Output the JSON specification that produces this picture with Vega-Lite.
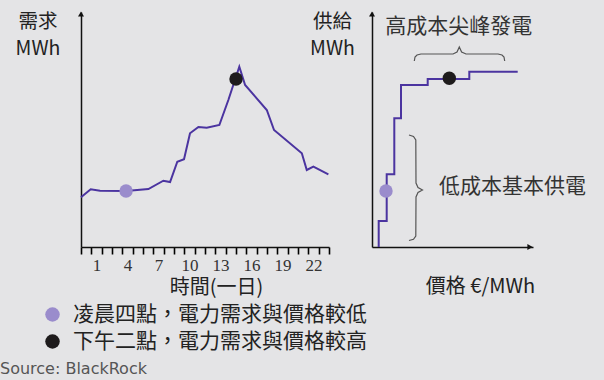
{
  "$schema": "https://vega.github.io/schema/vega-lite/v6.json",
  "background": "#e4e4e6",
  "padding": {"left": 0, "top": 11, "right": 20, "bottom": 8},
  "spacing": 43,
  "bounds": "flush",
  "config": {
    "view": {"stroke": null},
    "font": "Noto Sans CJK TC",
    "axis": {"titleFont": "Noto Sans CJK TC", "titleFontWeight": "normal", "titleColor": "#222", "grid": false}
  },
  "title": {"text": "Source: BlackRock", "orient": "bottom", "anchor": "start", "frame": "group", "dx": -81, "offset": 9, "font": "DejaVu Sans", "fontSize": 16, "fontWeight": "normal", "color": "#555"},
  "resolve": {"scale": {"color": "shared"}, "legend": {"color": "shared"}},
  "hconcat": [
    {
      "width": 248,
      "height": 235,
      "encoding": {
        "x": {"field": "t", "type": "quantitative", "scale": {"domain": [0, 24], "nice": false, "zero": false},
          "axis": {"values": [0,1,2,3,4,5,6,7,8,9,10,11,12,13,14,15,16,17,18,19,20,21,22,23,24],
            "labelExpr": "indexof([1,4,7,10,13,16,19,22], datum.value) >= 0 ? datum.label : ''",
            "labelOffset": 5.2, "labelFont": "Liberation Sans Narrow", "labelFontSize": 17, "labelColor": "#333", "labelPadding": 3,
            "labelAngle": 0, "labelOverlap": false, "labelFlush": false, "labelBound": false,
            "ticks": true, "tickSize": 7, "tickColor": "#000000", "tickOpacity": 1, "tickWidth": 1.6, "domainColor": "#111", "domainWidth": 1.5,
            "title": "時間(一日)", "titleFontSize": 20, "titleX": 135, "titleY": 30, "titleAlign": "center", "titleBaseline": "top"}},
        "y": {"field": "v", "type": "quantitative", "scale": {"domain": [0, 235], "nice": false},
          "axis": {"ticks": false, "labels": false, "domainColor": "#111", "domainWidth": 1.5,
            "title": ["需求", "MWh"], "titleAngle": 0, "titleX": -43.5, "titleY": 0, "titleAlign": "center", "titleBaseline": "top", "titleFontSize": 19.5, "titleLineHeight": 27}}
      },
      "layer": [
        {
          "data": {"values": [
            {"t": 0, "v": 49.7}, {"t": 0.94, "v": 57.7}, {"t": 1.84, "v": 56.3}, {"t": 4.36, "v": 56},
            {"t": 6.52, "v": 58}, {"t": 7.97, "v": 66.3}, {"t": 8.62, "v": 65}, {"t": 9.32, "v": 85.3},
            {"t": 9.97, "v": 87.7}, {"t": 10.55, "v": 113.7}, {"t": 11.36, "v": 120}, {"t": 12.17, "v": 119.3},
            {"t": 13.39, "v": 122}, {"t": 14.26, "v": 147}, {"t": 15.32, "v": 180.3}, {"t": 15.88, "v": 162},
            {"t": 17.98, "v": 137}, {"t": 18.68, "v": 117}, {"t": 21.37, "v": 93.7}, {"t": 21.85, "v": 77},
            {"t": 22.49, "v": 80.3}, {"t": 23.94, "v": 72.7}
          ]},
          "mark": {"type": "line", "color": "#4b34a0", "strokeWidth": 2}
        },
        {
          "data": {"values": [
            {"t": 4.36, "v": 56, "label": "凌晨四點，電力需求與價格較低"},
            {"t": 15.0, "v": 168, "label": "下午二點，電力需求與價格較高"}
          ]},
          "mark": {"type": "point", "filled": true, "size": 180, "opacity": 1},
          "encoding": {
            "color": {"field": "label", "type": "nominal",
              "scale": {"domain": ["凌晨四點，電力需求與價格較低", "下午二點，電力需求與價格較高"], "range": ["#9a8ccc", "#1e1b1c"]},
              "legend": {"orient": "none", "legendX": -39, "legendY": 292, "title": null, "symbolType": "circle", "symbolSize": 210,
                "symbolStrokeWidth": 0, "labelFont": "Noto Sans CJK TC", "labelFontSize": 21, "labelColor": "#222", "labelOffset": 10,
                "rowPadding": 5, "labelLimit": 0, "padding": 0}}
          }
        },
        {
          "data": {"values": [{"t": 0, "v": 233}]},
          "mark": {"type": "point", "shape": "triangle-up", "filled": true, "size": 36, "color": "#111", "opacity": 1}
        }
      ]
    },
    {
      "width": 161,
      "height": 235,
      "encoding": {
        "x": {"field": "p", "type": "quantitative", "scale": {"domain": [0, 161], "nice": false, "zero": false},
          "axis": {"ticks": false, "labels": false, "domainColor": "#111", "domainWidth": 1.5,
            "title": "價格 €/MWh", "titleFontSize": 20, "titleX": 108, "titleY": 29, "titleAlign": "center", "titleBaseline": "top"}},
        "y": {"field": "q", "type": "quantitative", "scale": {"domain": [0, 235], "nice": false},
          "axis": {"ticks": false, "labels": false, "domainColor": "#111", "domainWidth": 1.5,
            "title": ["供給", "MWh"], "titleAngle": 0, "titleX": -40, "titleY": 0, "titleAlign": "center", "titleBaseline": "top", "titleFontSize": 19.5, "titleLineHeight": 27}}
      },
      "layer": [
        {
          "data": {"values": [
            {"p": 6.7, "q": 0, "i": 0}, {"p": 6.7, "q": 26, "i": 1}, {"p": 14.7, "q": 72.7, "i": 2}, {"p": 22.3, "q": 128.7, "i": 3},
            {"p": 29, "q": 162, "i": 4}, {"p": 55.7, "q": 168, "i": 5}, {"p": 97.3, "q": 175.3, "i": 6}, {"p": 145.7, "q": 175.3, "i": 7}
          ]},
          "mark": {"type": "line", "interpolate": "step-after", "color": "#4b34a0", "strokeWidth": 2},
          "encoding": {"order": {"field": "i", "type": "quantitative"}}
        },
        {
          "data": {"values": [
            {"b": "top", "i": 0, "p": 42.3, "q": 186}, {"b": "top", "i": 1, "p": 43, "q": 190}, {"b": "top", "i": 2, "p": 45, "q": 192},
            {"b": "top", "i": 3, "p": 49, "q": 193}, {"b": "top", "i": 4, "p": 81, "q": 193}, {"b": "top", "i": 5, "p": 85, "q": 195},
            {"b": "top", "i": 6, "p": 87.3, "q": 200}, {"b": "top", "i": 7, "p": 89.6, "q": 195}, {"b": "top", "i": 8, "p": 94, "q": 193},
            {"b": "top", "i": 9, "p": 126, "q": 193}, {"b": "top", "i": 10, "p": 130, "q": 192}, {"b": "top", "i": 11, "p": 132, "q": 190},
            {"b": "top", "i": 12, "p": 132.7, "q": 186},
            {"b": "side", "i": 0, "p": 37, "q": 112}, {"b": "side", "i": 1, "p": 41.5, "q": 110.5}, {"b": "side", "i": 2, "p": 43.8, "q": 107},
            {"b": "side", "i": 3, "p": 44, "q": 64}, {"b": "side", "i": 4, "p": 46, "q": 59.5}, {"b": "side", "i": 5, "p": 50.5, "q": 57},
            {"b": "side", "i": 6, "p": 46, "q": 54.5}, {"b": "side", "i": 7, "p": 44, "q": 50}, {"b": "side", "i": 8, "p": 43.8, "q": 11},
            {"b": "side", "i": 9, "p": 41.5, "q": 7.7}, {"b": "side", "i": 10, "p": 37, "q": 6.5}
          ]},
          "mark": {"type": "line", "color": "#555", "strokeWidth": 1.2},
          "encoding": {"detail": {"field": "b", "type": "nominal"}, "order": {"field": "i", "type": "quantitative"}}
        },
        {
          "data": {"values": [
            {"p": 13.3, "q": 220, "txt": "高成本尖峰發電"},
            {"p": 67, "q": 60, "txt": "低成本基本供電"}
          ]},
          "mark": {"type": "text", "align": "left", "baseline": "middle", "fontSize": 21, "color": "#333", "font": "Noto Sans CJK TC"},
          "encoding": {"text": {"field": "txt", "type": "nominal"}}
        },
        {
          "data": {"values": [
            {"p": 14, "q": 56, "label": "凌晨四點，電力需求與價格較低"},
            {"p": 77.3, "q": 168.7, "label": "下午二點，電力需求與價格較高"}
          ]},
          "mark": {"type": "point", "filled": true, "size": 180, "opacity": 1},
          "encoding": {"color": {"field": "label", "type": "nominal"}}
        },
        {
          "data": {"values": [{"p": 0, "q": 233, "s": "triangle-up"}, {"p": 158, "q": 0, "s": "triangle-right"}]},
          "mark": {"type": "point", "filled": true, "size": 36, "color": "#111", "opacity": 1},
          "encoding": {"shape": {"field": "s", "type": "nominal", "scale": null}}
        }
      ]
    }
  ]
}
